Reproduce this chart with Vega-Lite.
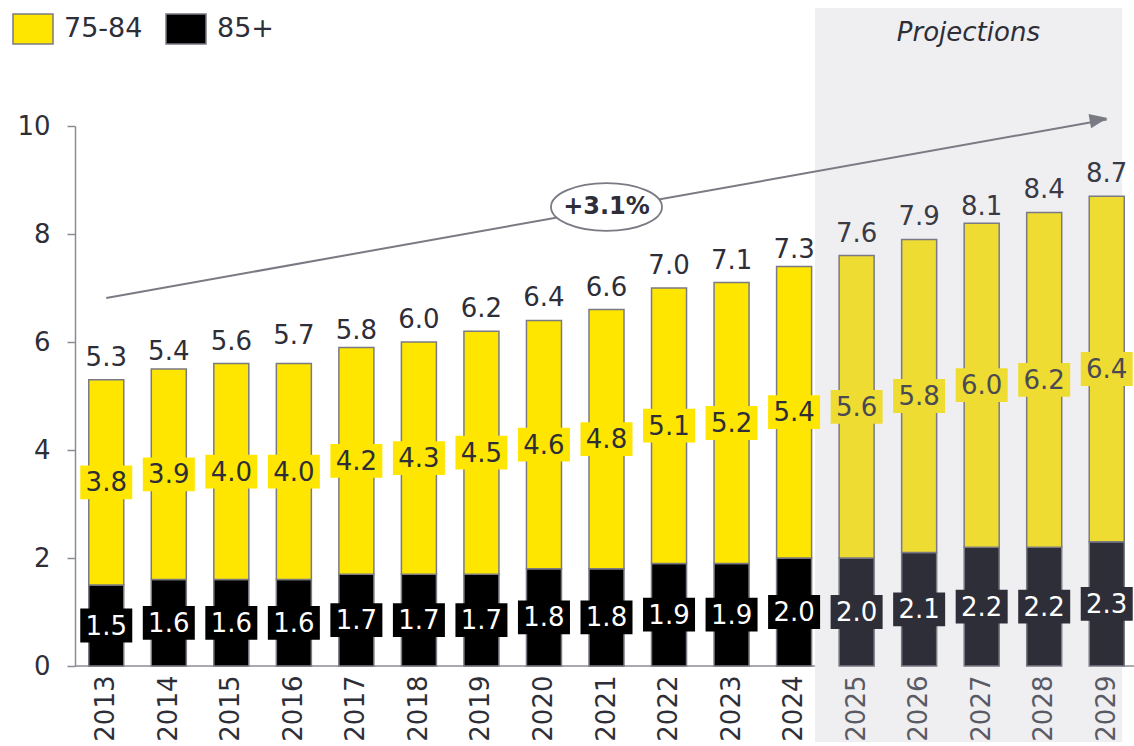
{
  "$schema": "https://vega.github.io/schema/vega-lite/v6.json",
  "width": 1059,
  "height": 540,
  "autosize": {"type": "none"},
  "padding": {"left": 75, "top": 126, "right": 0, "bottom": 80},
  "background": "#FFFFFF",
  "config": {
    "font": "DejaVu Sans",
    "view": {"stroke": null},
    "axis": {"labelFont": "DejaVu Sans", "labelColor": "#2E2E38", "title": null}
  },
  "datasets": {
    "segments": [
      {"year": 2013, "age": "85+", "value": 1.5}, {"year": 2013, "age": "75-84", "value": 3.8},
      {"year": 2014, "age": "85+", "value": 1.6}, {"year": 2014, "age": "75-84", "value": 3.9},
      {"year": 2015, "age": "85+", "value": 1.6}, {"year": 2015, "age": "75-84", "value": 4.0},
      {"year": 2016, "age": "85+", "value": 1.6}, {"year": 2016, "age": "75-84", "value": 4.0},
      {"year": 2017, "age": "85+", "value": 1.7}, {"year": 2017, "age": "75-84", "value": 4.2},
      {"year": 2018, "age": "85+", "value": 1.7}, {"year": 2018, "age": "75-84", "value": 4.3},
      {"year": 2019, "age": "85+", "value": 1.7}, {"year": 2019, "age": "75-84", "value": 4.5},
      {"year": 2020, "age": "85+", "value": 1.8}, {"year": 2020, "age": "75-84", "value": 4.6},
      {"year": 2021, "age": "85+", "value": 1.8}, {"year": 2021, "age": "75-84", "value": 4.8},
      {"year": 2022, "age": "85+", "value": 1.9}, {"year": 2022, "age": "75-84", "value": 5.1},
      {"year": 2023, "age": "85+", "value": 1.9}, {"year": 2023, "age": "75-84", "value": 5.2},
      {"year": 2024, "age": "85+", "value": 2.0}, {"year": 2024, "age": "75-84", "value": 5.4},
      {"year": 2025, "age": "85+", "value": 2.0}, {"year": 2025, "age": "75-84", "value": 5.6},
      {"year": 2026, "age": "85+", "value": 2.1}, {"year": 2026, "age": "75-84", "value": 5.8},
      {"year": 2027, "age": "85+", "value": 2.2}, {"year": 2027, "age": "75-84", "value": 6.0},
      {"year": 2028, "age": "85+", "value": 2.2}, {"year": 2028, "age": "75-84", "value": 6.2},
      {"year": 2029, "age": "85+", "value": 2.3}, {"year": 2029, "age": "75-84", "value": 6.4}
    ],
    "totals": [
      {"year": 2013, "total": 5.3}, {"year": 2014, "total": 5.4}, {"year": 2015, "total": 5.6},
      {"year": 2016, "total": 5.7}, {"year": 2017, "total": 5.8}, {"year": 2018, "total": 6.0},
      {"year": 2019, "total": 6.2}, {"year": 2020, "total": 6.4}, {"year": 2021, "total": 6.6},
      {"year": 2022, "total": 7.0}, {"year": 2023, "total": 7.1}, {"year": 2024, "total": 7.3},
      {"year": 2025, "total": 7.6}, {"year": 2026, "total": 7.9}, {"year": 2027, "total": 8.1},
      {"year": 2028, "total": 8.4}, {"year": 2029, "total": 8.7}
    ],
    "notes": [
      {"growth": "+3.1%", "section": "Projections", "from": 2013, "to": 2029, "startY": 6.815, "endY": 10.12}
    ]
  },
  "layer": [
    {
      "data": {"name": "notes"},
      "mark": {"type": "rule", "color": "#8C8C94", "strokeWidth": 1.5},
      "encoding": {
        "y": {"datum": 0, "type": "quantitative", "scale": {"domain": [0, 10], "nice": false}}
      }
    },
    {
      "data": {"name": "notes"},
      "mark": {"type": "rect", "color": "#EFEFF2"},
      "encoding": {
        "x": {"datum": 2025, "type": "ordinal", "bandPosition": -0.69},
        "x2": {"datum": 2029, "bandPosition": 0.94},
        "y": {"datum": 12.185, "type": "quantitative", "scale": {"domain": [0, 10], "nice": false}},
        "y2": {"datum": -1.407}
      }
    },
    {
      "data": {"name": "notes"},
      "mark": {"type": "text", "fontSize": 26, "fontStyle": "italic", "color": "#2E2E38", "baseline": "middle", "align": "center"},
      "encoding": {
        "x": {"datum": 2027, "type": "ordinal", "bandPosition": 0.12},
        "y": {"datum": 11.72, "type": "quantitative", "scale": {"domain": [0, 10], "nice": false}},
        "text": {"field": "section"}
      }
    },
    {
      "data": {"name": "segments"},
      "transform": [
        {"stack": "value", "groupby": ["year"], "sort": [{"field": "age", "order": "descending"}], "as": ["lo", "hi"]}
      ],
      "mark": {"type": "bar", "stroke": "#7A7A84", "strokeWidth": 1.5},
      "encoding": {
        "x": {
          "field": "year", "type": "ordinal",
          "scale": {"paddingInner": 0.44, "paddingOuter": 0.22, "range": [0, 1063]},
          "axis": {
            "labelAngle": -90, "labelAlign": "right", "labelBaseline": "middle",
            "labelFontSize": 26, "labelPadding": 9, "ticks": false, "domain": false,
            "labelColor": {"condition": {"test": "datum.value >= 2025", "value": "#5A5A64"}, "value": "#2E2E38"}
          }
        },
        "y": {
          "field": "lo", "type": "quantitative",
          "scale": {"domain": [0, 10], "nice": false},
          "axis": {
            "values": [0, 2, 4, 6, 8, 10], "grid": false, "tickSize": 8, "tickColor": "#8C8C94",
            "domainColor": "#8C8C94", "domainWidth": 1.5, "tickWidth": 1.5,
            "labelFontSize": 26, "labelPadding": 17
          }
        },
        "y2": {"field": "hi"},
        "color": {
          "field": "age", "type": "nominal",
          "scale": {"domain": ["75-84", "85+"], "range": ["#FFE600", "#000000"]},
          "condition": [
            {"test": "datum.year >= 2025 && datum.age === '75-84'", "value": "#EEDC32"},
            {"test": "datum.year >= 2025 && datum.age === '85+'", "value": "#2E2E38"}
          ],
          "legend": {
            "title": null, "orient": "none", "direction": "horizontal",
            "legendX": -63, "legendY": -118,
            "symbolType": "M-1,-0.75H1V0.75H-1Z", "symbolSize": 1600,
            "symbolStrokeColor": "#7A7A84", "symbolStrokeWidth": 1.5, "symbolOpacity": 1,
            "labelFontSize": 27, "labelColor": "#2E2E38", "labelOffset": 10,
            "columnPadding": 20, "labelFont": "DejaVu Sans"
          }
        }
      }
    },
    {
      "data": {"name": "notes"},
      "mark": {"type": "rule", "color": "#7A7A84", "strokeWidth": 2},
      "encoding": {
        "x": {"field": "from", "type": "ordinal"},
        "x2": {"field": "to"},
        "y": {"field": "startY", "type": "quantitative", "scale": {"domain": [0, 10], "nice": false}},
        "y2": {"field": "endY"}
      }
    },
    {
      "data": {"name": "notes"},
      "mark": {"type": "point", "shape": "M-1,-0.8L1,0L-1,0.8Z", "size": 324, "filled": true, "color": "#7A7A84", "opacity": 1, "angle": 349.8},
      "encoding": {
        "x": {"field": "to", "type": "ordinal", "bandPosition": 0.27},
        "y": {"field": "endY", "type": "quantitative", "scale": {"domain": [0, 10], "nice": false}}
      }
    },
    {
      "data": {"name": "notes"},
      "mark": {"type": "point", "shape": "M-1,0A1,0.43 0 1,0 1,0A1,0.43 0 1,0 -1,0Z", "size": 12321, "filled": true, "fill": "#FFFFFF", "stroke": "#7A7A84", "strokeWidth": 1.8, "opacity": 1},
      "encoding": {
        "x": {"datum": 2021, "type": "ordinal"},
        "y": {"datum": 8.5, "type": "quantitative", "scale": {"domain": [0, 10], "nice": false}}
      }
    },
    {
      "data": {"name": "notes"},
      "mark": {"type": "text", "fontSize": 24, "fontWeight": "bold", "color": "#2E2E38", "baseline": "middle", "align": "center"},
      "encoding": {
        "x": {"datum": 2021, "type": "ordinal"},
        "y": {"datum": 8.5, "type": "quantitative", "scale": {"domain": [0, 10], "nice": false}},
        "text": {"field": "growth"}
      }
    },
    {
      "data": {"name": "segments"},
      "transform": [
        {"stack": "value", "groupby": ["year"], "sort": [{"field": "age", "order": "descending"}], "as": ["lo", "hi"]},
        {"calculate": "(datum.lo + datum.hi) / 2", "as": "mid"}
      ],
      "layer": [
        {
          "mark": {"type": "point", "shape": "M-1,-0.65H1V0.65H-1Z", "size": 2704, "filled": true, "opacity": 1, "strokeWidth": 0},
          "encoding": {
            "x": {"field": "year", "type": "ordinal"},
            "y": {"field": "mid", "type": "quantitative", "scale": {"domain": [0, 10], "nice": false}},
            "fill": {
              "condition": [
                {"test": "datum.year >= 2025 && datum.age === '75-84'", "value": "#EEDC32"},
                {"test": "datum.year >= 2025 && datum.age === '85+'", "value": "#2E2E38"},
                {"test": "datum.age === '85+'", "value": "#000000"}
              ],
              "value": "#FFE600"
            }
          }
        },
        {
          "mark": {"type": "text", "fontSize": 26, "baseline": "middle", "align": "center", "dy": 1},
          "encoding": {
            "x": {"field": "year", "type": "ordinal"},
            "y": {"field": "mid", "type": "quantitative", "scale": {"domain": [0, 10], "nice": false}},
            "text": {"field": "value", "format": ".1f"},
            "fill": {
              "condition": [
                {"test": "datum.age === '85+'", "value": "#FFFFFF"},
                {"test": "datum.year >= 2025", "value": "#4A4A54"}
              ],
              "value": "#2E2E38"
            }
          }
        }
      ]
    },
    {
      "data": {"name": "totals"},
      "mark": {"type": "text", "fontSize": 26, "baseline": "alphabetic", "align": "center", "dy": -14},
      "encoding": {
        "x": {"field": "year", "type": "ordinal"},
        "y": {"field": "total", "type": "quantitative", "scale": {"domain": [0, 10], "nice": false}},
        "text": {"field": "total", "format": ".1f"},
        "fill": {"condition": {"test": "datum.year >= 2025", "value": "#3A3A44"}, "value": "#2E2E38"}
      }
    }
  ]
}
